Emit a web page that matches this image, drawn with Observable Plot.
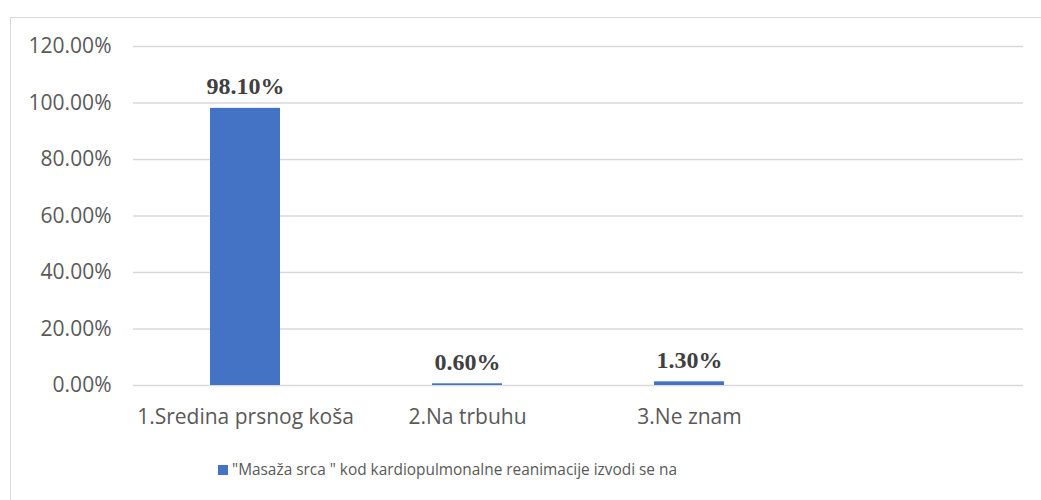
<!DOCTYPE html>
<html>
<head>
<meta charset="utf-8">
<script src="https://cdn.jsdelivr.net/npm/d3@7"></script>
<script src="https://cdn.jsdelivr.net/npm/@observablehq/plot@0.6"></script>
<style>
  html, body { margin: 0; padding: 0; background: #fff; }
  #wrap { position: relative; width: 1041px; height: 500px; overflow: hidden; }
  #frame { position: absolute; left: 10px; top: 17px; width: 1040px; height: 500px; border: 1.5px solid #d9d9d9; box-sizing: border-box; }
  #chart { position: absolute; left: 0; top: 0; }
  #legend { position: absolute; left: 218px; top: 459px; white-space: nowrap; font-family: "Open Sans", sans-serif; font-size: 15.4px; color: #595959; }
  #legend .sw { display: inline-block; width: 10px; height: 10px; background: #4472c4; margin-right: 4px; vertical-align: 0px; }
</style>
</head>
<body>
<div id="wrap">
  <div id="frame"></div>
  <div id="chart"></div>
  <div id="legend"></div>
</div>
<script>
const categories = ["1.Sredina prsnog koša", "2.Na trbuhu", "3.Ne znam", ""];
const values = [0.981, 0.006, 0.013, null];
const valueLabels = ["98.10%", "0.60%", "1.30%", ""];
const seriesName = "\"Masaža srca \" kod kardiopulmonalne reanimacije izvodi se na";
const yTicks = [0, 0.2, 0.4, 0.6, 0.8, 1.0, 1.2];

const data = categories.map((c, i) => ({cat: c, key: i, v: values[i], label: valueLabels[i]}));
const bars = data.filter(d => d.v != null);

const chart = Plot.plot({
  width: 1041,
  height: 430,
  marginLeft: 133,
  marginRight: 18,
  marginTop: 46,
  marginBottom: 45,
  style: {fontFamily: "'Open Sans', sans-serif", fontSize: "21px", color: "#595959", background: "transparent"},
  x: {domain: d3.range(categories.length), paddingInner: 0.685, paddingOuter: 0.3425, tickFormat: i => categories[i], tickSize: 0, tickPadding: 24, label: null},
  y: {domain: [0, 1.2], ticks: yTicks, tickFormat: d => (d * 100).toFixed(2) + "%", tickSize: 0, tickPadding: 22, label: null},
  marks: [
    Plot.gridY(yTicks, {stroke: "#d9d9d9", strokeOpacity: 1, strokeWidth: 1.3}),
    Plot.barY(bars, {x: "key", y: "v", fill: "#4472c4", insetLeft: 0, insetRight: 0}),
    Plot.text(bars, {x: "key", y: "v", text: "label", dy: -14, lineAnchor: "bottom", fontFamily: "'Liberation Serif', 'Times New Roman', serif", fontWeight: "bold", fontSize: 24, fill: "#404040"})
  ]
});
document.getElementById("chart").appendChild(chart);
document.getElementById("legend").innerHTML = '<span class="sw"></span>' + seriesName.replace(/&/g, "&amp;").replace(/</g, "&lt;");
</script>
</body>
</html>
